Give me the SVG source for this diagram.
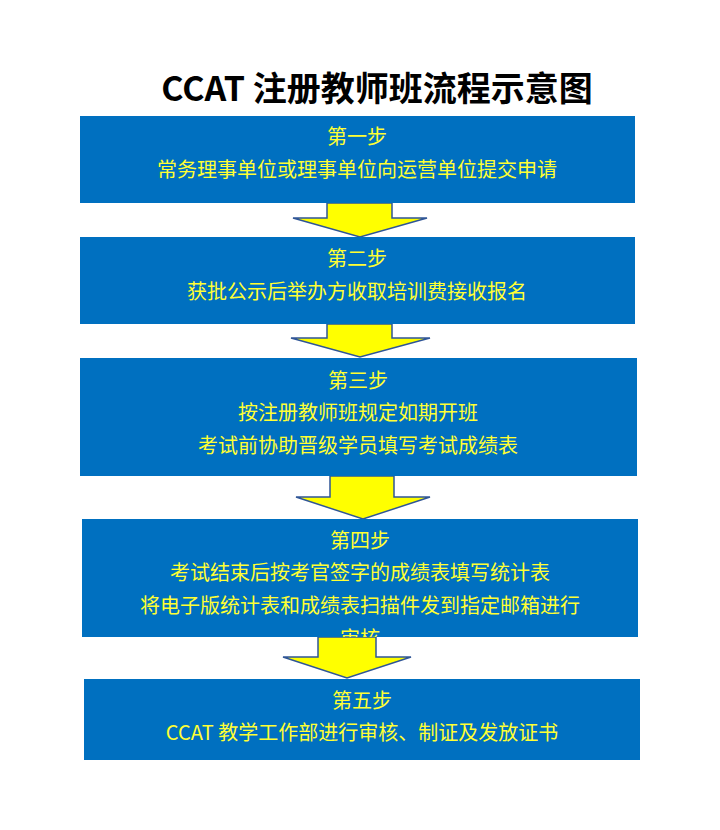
<svg xmlns="http://www.w3.org/2000/svg" width="720" height="830" viewBox="0 0 720 830">
<style>
.box{fill:#0070c0}
.t{font-family:"Noto Sans CJK SC","Liberation Sans",sans-serif;font-size:20px;fill:#ffff33;text-anchor:middle}
.arr{fill:#ffff00;stroke:#2f5597;stroke-width:1.5}
</style>
<defs><clipPath id="c4"><rect x="82" y="519" width="556" height="118"/></clipPath></defs>
<rect width="720" height="830" fill="#fff"/>
<text x="377" y="101" font-family="'Noto Sans CJK SC','DejaVu Sans',sans-serif" font-size="34" font-weight="bold" text-anchor="middle">CCAT 注册教师班流程示意图</text>
<g id="connectors">
<polygon class="arr" points="327,203 392,203 392,218 427,218 360,237 293,218 327,218"/>
<polygon class="arr" points="327,324 392,324 392,338 430,338 360,357 291,338 327,338"/>
<polygon class="arr" points="330,476 394,476 394,497 430,497 363,519 296,497 330,497"/>
<polygon class="arr" points="318,637 376,637 376,657 411,657 347,678 283,657 318,657"/>
</g>
<g id="step1"><rect class="box" x="80" y="116" width="555" height="87"/>
<text class="t" x="357" y="144">第一步</text><text class="t" x="357" y="177">常务理事单位或理事单位向运营单位提交申请</text></g>
<g id="step2"><rect class="box" x="80" y="237" width="555" height="87"/>
<text class="t" x="357" y="266">第二步</text><text class="t" x="357" y="299">获批公示后举办方收取培训费接收报名</text></g>
<g id="step3"><rect class="box" x="80" y="358" width="557" height="118"/>
<text class="t" x="358" y="388">第三步</text><text class="t" x="358" y="420">按注册教师班规定如期开班</text><text class="t" x="358" y="453">考试前协助晋级学员填写考试成绩表</text></g>
<g id="step4"><rect class="box" x="82" y="519" width="556" height="118"/>
<text class="t" x="360" y="548">第四步</text><text class="t" x="360" y="580">考试结束后按考官签字的成绩表填写统计表</text><text class="t" x="360" y="613">将电子版统计表和成绩表扫描件发到指定邮箱进行</text>
<text class="t" x="360" y="646" clip-path="url(#c4)">审核</text></g>
<g id="step5"><rect class="box" x="84" y="679" width="556" height="81"/>
<text class="t" x="362" y="708">第五步</text><text class="t" x="362" y="740">CCAT 教学工作部进行审核、制证及发放证书</text></g>
</svg>
